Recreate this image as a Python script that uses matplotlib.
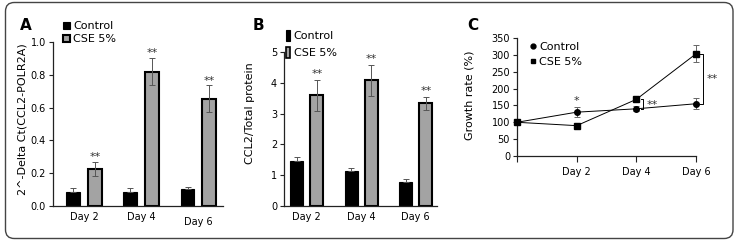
import matplotlib
matplotlib.use("Agg")
import matplotlib.pyplot as plt
import matplotlib.transforms as mtrans
import numpy as np
from matplotlib.patches import FancyBboxPatch, Patch
from matplotlib.lines import Line2D

# ---- data ----
days = ["Day 2", "Day 4", "Day 6"]
series = ["Control", "CSE 5%"]

a_ctrl = [0.085, 0.085, 0.105]
a_ctrl_err = [0.022, 0.022, 0.012]
a_cse = [0.225, 0.82, 0.655]
a_cse_err = [0.045, 0.08, 0.08]
a_sig = ["**", "**", "**"]

b_ctrl = [1.47, 1.13, 0.78]
b_ctrl_err = [0.11, 0.10, 0.10]
b_cse = [3.60, 4.08, 3.33]
b_cse_err = [0.50, 0.50, 0.20]
b_sig = ["**", "**", "**"]

c_days = ["", "Day 2", "Day 4", "Day 6"]
c_ctrl = [100, 130, 140, 155]
c_ctrl_err = [0, 15, 8, 17]
c_cse = [100, 90, 168, 303]
c_cse_err = [0, 0, 0, 25]

W, H = 736, 243
fig = plt.figure(figsize=(W / 100, H / 100), dpi=100)
plt.rcParams['font.family'] = ['DejaVu Sans']

CTRL_C = "#000000"
CSE_C = "#a3a3a3"
ERR_C = "#555555"


def fx(px):
    return px / W


def fy(py):
    return 1 - py / H


def style_ax(ax):
    for s in ["top", "right"]:
        ax.spines[s].set_visible(False)
    for s in ["left", "bottom"]:
        ax.spines[s].set_linewidth(0.9)
        ax.spines[s].set_color("#222222")
    ax.tick_params(axis="both", labelsize=7, width=0.8, length=3, color="#222222", pad=2)


def bar_panel(ax, ctrl, ctrl_err, cse, cse_err, sig, width, off, ylim, yticks, ytl, xlim, sig_pad):
    x = np.arange(len(days))
    ax.bar(x - off, ctrl, width, color=CTRL_C, edgecolor=CTRL_C, lw=0.8, zorder=2)
    ax.bar(x + off, cse, width, color=CSE_C, edgecolor="black", lw=1.5, zorder=2)
    ax.errorbar(x - off, ctrl, yerr=[np.zeros(len(ctrl)), ctrl_err], fmt="none",
                ecolor=ERR_C, elinewidth=0.7, capsize=2.5, capthick=0.7, zorder=3)
    ax.errorbar(x + off, cse, yerr=cse_err, fmt="none",
                ecolor=ERR_C, elinewidth=0.7, capsize=2.5, capthick=0.7, zorder=3)
    for xi, v, e, s in zip(x + off, cse, cse_err, sig):
        ax.text(xi, v + e + sig_pad, s, ha="center", va="center", fontsize=8, color="#333333")
    ax.set_xlim(*xlim)
    ax.set_ylim(*ylim)
    ax.set_yticks(yticks)
    ax.set_yticklabels(ytl)
    ax.set_xticks(x)
    ax.set_xticklabels(days)
    style_ax(ax)
    ax.tick_params(axis="x", length=0, pad=4)


# ---- Panel A ----
axA = fig.add_axes([fx(53), fy(206), fx(223) - fx(53), fy(42) - fy(206)])
bar_panel(axA, a_ctrl, a_ctrl_err, a_cse, a_cse_err, a_sig, 0.24, 0.19,
          (0, 1.0), [0, 0.2, 0.4, 0.6, 0.8, 1.0], ["0.0", "0.2", "0.4", "0.6", "0.8", "1.0"],
          (-0.54, 2.43), 0.03)
axA.set_ylabel("2^-Delta Ct(CCL2-POLR2A)", fontsize=8)
axA.yaxis.set_label_coords(-0.15, 0.53)
lbl6 = axA.get_xticklabels()[2]
lbl6.set_transform(lbl6.get_transform() + mtrans.ScaledTranslation(0, -4 / 72, fig.dpi_scale_trans))
axA.legend(handles=[Patch(facecolor=CTRL_C, edgecolor="black", lw=0.8),
                    Patch(facecolor=CSE_C, edgecolor="black", lw=1.5)],
           labels=series, loc="upper left", bbox_to_anchor=(fx(63), fy(21)),
           bbox_transform=fig.transFigure, frameon=False, fontsize=8,
           handlelength=0.6, handleheight=0.6, handletextpad=0.3, labelspacing=0.3,
           borderpad=0, borderaxespad=0)

# ---- Panel B ----
axB = fig.add_axes([fx(284), fy(206), fx(437) - fx(284), fy(52) - fy(206)])
bar_panel(axB, b_ctrl, b_ctrl_err, b_cse, b_cse_err, b_sig, 0.24, 0.185,
          (0, 5), [0, 1, 2, 3, 4, 5], ["0", "1", "2", "3", "4", "5"],
          (-0.42, 2.39), 0.2)
axB.set_ylabel("CCL2/Total protein", fontsize=8)
axB.yaxis.set_label_coords(-0.19, 0.6)
axB.legend(handles=[Patch(facecolor=CTRL_C, edgecolor="black", lw=0.8),
                    Patch(facecolor=CSE_C, edgecolor="black", lw=1.2)],
           labels=series, loc="upper left", bbox_to_anchor=(fx(286), fy(30)),
           bbox_transform=fig.transFigure, frameon=False, fontsize=8,
           handlelength=0.35, handleheight=1.1, handletextpad=0.35, labelspacing=0.55,
           borderpad=0, borderaxespad=0)

# ---- Panel C ----
axC = fig.add_axes([fx(517), fy(156), fx(696) - fx(517), fy(38) - fy(156)])
xc = np.arange(len(c_days))
axC.errorbar(xc, c_ctrl, yerr=c_ctrl_err, fmt="-o", color="black", lw=0.7, ms=4,
             ecolor="#666666", elinewidth=0.7, capsize=2.5, capthick=0.7, zorder=3, clip_on=False)
axC.errorbar(xc, c_cse, yerr=c_cse_err, fmt="-s", color="black", lw=0.7, ms=4,
             ecolor="#666666", elinewidth=0.7, capsize=2.5, capthick=0.7, zorder=3, clip_on=False)
axC.set_xlim(0, 3)
axC.set_ylim(0, 350)
axC.set_yticks(np.arange(0, 351, 50))
axC.set_xticks(xc)
axC.set_xticklabels(c_days)
style_ax(axC)
axC.tick_params(axis="x", length=4, pad=4)
axC.set_ylabel("Growth rate (%)", fontsize=8)
axC.yaxis.set_label_coords(-0.235, 0.517)
# significance markers
axC.text(1, 163, "*", ha="center", va="center", fontsize=8, color="#333333")
bx4 = 2.12
axC.plot([bx4 - 0.04, bx4, bx4, bx4 - 0.04], [168, 168, 140, 140], color="black", lw=0.7, clip_on=False)
axC.text(bx4 + 0.05, 150, "**", ha="left", va="center", fontsize=8, color="#333333", clip_on=False)
bx6 = 3.12
axC.plot([bx6 - 0.05, bx6, bx6, bx6 - 0.05], [303, 303, 155, 155], color="black", lw=0.7, clip_on=False)
axC.text(bx6 + 0.05, 228, "**", ha="left", va="center", fontsize=8, color="#333333", clip_on=False)
axC.legend(handles=[Line2D([], [], marker="o", color="black", ls="none", ms=3.5),
                    Line2D([], [], marker="s", color="black", ls="none", ms=3.5)],
           labels=series, loc="upper left", bbox_to_anchor=(fx(530), fy(42)),
           bbox_transform=fig.transFigure, frameon=False, fontsize=8,
           handlelength=0.5, handletextpad=0.3, labelspacing=0.45,
           borderpad=0, borderaxespad=0)

# ---- panel letters ----
for lab, px in [("A", 26), ("B", 258), ("C", 473)]:
    fig.text(fx(px), fy(25), lab, ha="center", va="center", fontsize=11, fontweight="bold")

# ---- rounded border ----
box = FancyBboxPatch((fx(5.5), fy(238.5)), fx(733) - fx(5.5), fy(2.5) - fy(238.5),
                     boxstyle="round,pad=0,rounding_size=0.012", transform=fig.transFigure,
                     facecolor="none", edgecolor="#444444", lw=1.0, mutation_aspect=W / H)
fig.patches.append(box)

fig.savefig("out.png", dpi=100)
